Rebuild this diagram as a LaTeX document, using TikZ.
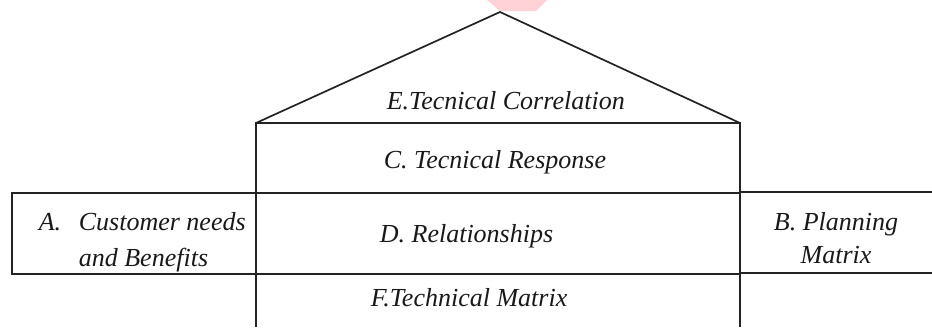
\documentclass[tikz,border=0pt]{standalone}
\usepackage{fontspec}
\setmainfont{Liberation Serif}
\usetikzlibrary{positioning}
\definecolor{HouseLine}{RGB}{35, 35, 35}
\definecolor{HouseText}{RGB}{25, 25, 25}
\definecolor{MarkPink}{RGB}{255, 210, 215}

\begin{document}
\begin{tikzpicture}[x=1pt, y=-1pt, line width=1.7pt,
        wall/.style={draw=HouseLine},
        lbl/.style={font=\fontsize{26}{33}\selectfont\itshape, color=HouseText, inner sep=0pt}]
            \def\L{256}
            \def\R{740}
            \def\T{123}
            \def\M{193}
            \def\B{274}
            \useasboundingbox (0,0) rectangle (932,327);
            \fill[MarkPink] (487,0) -- (547,0) -- (536,11) -- (500,11) -- cycle;
            \coordinate (apex) at (500,12);
            \coordinate (roofL) at (\L,\T);
            \coordinate (roofR) at (\R,\T);
            % roof and middle column
            \draw[wall] (roofL) -- (apex) -- (roofR);
            \draw[wall] (\L,327) -- (roofL) -- (roofR) -- (\R,327);
            \draw[wall] (\L,\M) -- (\R,\M);
            \draw[wall] (\L,\B) -- (\R,\B);
            % side rooms
            \draw[wall] (\L,\M) -- (12,\M) -- (12,\B) -- (\L,\B);
            \draw[wall] (\R,192) -- (932,192);
            \draw[wall] (\R,273) -- (932,273);
            \node[lbl, anchor=base west] (corr) at (386,109) {E.Tecnical Correlation};
            \node[lbl, anchor=base west] (resp) at (383,168) {C. Tecnical Response};
            \node[lbl, anchor=base west] (rel) at (379,242) {D. Relationships};
            \node[lbl, anchor=base west] (techm) at (370,306) {F.Technical Matrix};
            \node[lbl, anchor=base west] (custA) at (38,230) {A.};
            \node[lbl, anchor=base west] (cust1) at (78,230) {Customer needs};
            \node[lbl, anchor=base west] (cust2) at (78,266) {and Benefits};
            \node[lbl, anchor=base] (plan1) at (836,230) {B. Planning};
            \node[lbl, anchor=base] (plan2) at (836,263) {Matrix};
        \end{tikzpicture}
\end{document}
